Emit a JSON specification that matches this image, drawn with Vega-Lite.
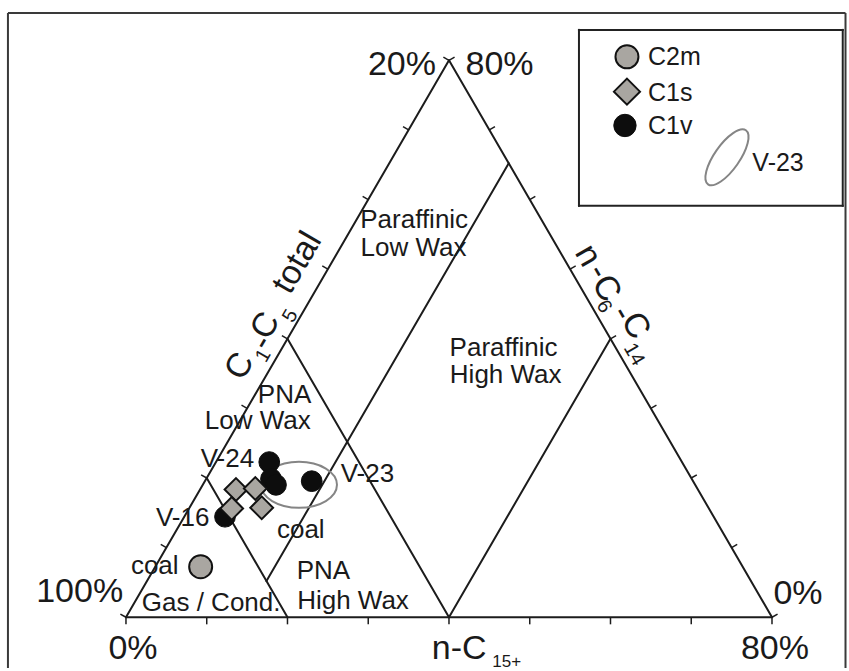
{
  "$schema": "https://vega.github.io/schema/vega-lite/v6.json",
  "width": 849,
  "height": 671,
  "autosize": {"type": "fit", "contains": "padding"},
  "padding": 0,
  "background": "white",
  "config": {"view": {"stroke": null}, "font": "Liberation Sans"},
  "datasets": {
    "segments": [
      {"kind": "frame", "x": -18.27, "y": 93.96, "x2": 111.38, "y2": 93.96},
      {"kind": "frame", "x": -18.27, "y": 93.96, "x2": -18.27, "y2": -7.89},
      {"kind": "frame", "x": 111.38, "y": 93.96, "x2": 111.38, "y2": -7.89},
      {"kind": "box", "x": 70.12, "y": 91.33, "x2": 110.95, "y2": 91.33},
      {"kind": "box", "x": 70.12, "y": 63.98, "x2": 110.95, "y2": 63.98},
      {"kind": "box", "x": 70.12, "y": 91.33, "x2": 70.12, "y2": 63.98},
      {"kind": "box", "x": 110.95, "y": 91.33, "x2": 110.95, "y2": 63.98},
      {"kind": "edge", "x": 0, "y": 0, "x2": 100, "y2": 0},
      {"kind": "edge", "x": 0, "y": 0, "x2": 50, "y2": 86.603},
      {"kind": "edge", "x": 100, "y": 0, "x2": 50, "y2": 86.603},
      {"kind": "edge", "x": 25, "y": 43.301, "x2": 50, "y2": 0},
      {"kind": "edge", "x": 75, "y": 43.301, "x2": 50, "y2": 0},
      {"kind": "edge", "x": 12.5, "y": 21.651, "x2": 25, "y2": 0},
      {"kind": "edge", "x": 21.75, "y": 5.629, "x2": 59.25, "y2": 70.58},
      {"kind": "tick", "x": 0, "y": 0, "x2": 0, "y2": -1.1},
      {"kind": "tick", "x": 12.5, "y": 0, "x2": 12.5, "y2": -1.1},
      {"kind": "tick", "x": 25, "y": 0, "x2": 25, "y2": -1.1},
      {"kind": "tick", "x": 37.5, "y": 0, "x2": 37.5, "y2": -1.1},
      {"kind": "tick", "x": 50, "y": 0, "x2": 50, "y2": -1.1},
      {"kind": "tick", "x": 62.5, "y": 0, "x2": 62.5, "y2": -1.1},
      {"kind": "tick", "x": 75, "y": 0, "x2": 75, "y2": -1.1},
      {"kind": "tick", "x": 87.5, "y": 0, "x2": 87.5, "y2": -1.1},
      {"kind": "tick", "x": 100, "y": 0, "x2": 100, "y2": -1.1},
      {"kind": "tick", "x": 0, "y": 0, "x2": -0.866, "y2": 0.5},
      {"kind": "tick", "x": 6.25, "y": 10.825, "x2": 5.384, "y2": 11.325},
      {"kind": "tick", "x": 12.5, "y": 21.651, "x2": 11.634, "y2": 22.151},
      {"kind": "tick", "x": 18.75, "y": 32.476, "x2": 17.884, "y2": 32.976},
      {"kind": "tick", "x": 25, "y": 43.301, "x2": 24.134, "y2": 43.801},
      {"kind": "tick", "x": 31.25, "y": 54.127, "x2": 30.384, "y2": 54.627},
      {"kind": "tick", "x": 37.5, "y": 64.952, "x2": 36.634, "y2": 65.452},
      {"kind": "tick", "x": 43.75, "y": 75.777, "x2": 42.884, "y2": 76.277},
      {"kind": "tick", "x": 50, "y": 86.603, "x2": 49.134, "y2": 87.103},
      {"kind": "tick", "x": 100, "y": 0, "x2": 100.866, "y2": 0.5},
      {"kind": "tick", "x": 93.75, "y": 10.825, "x2": 94.616, "y2": 11.325},
      {"kind": "tick", "x": 87.5, "y": 21.651, "x2": 88.366, "y2": 22.151},
      {"kind": "tick", "x": 81.25, "y": 32.476, "x2": 82.116, "y2": 32.976},
      {"kind": "tick", "x": 75, "y": 43.301, "x2": 75.866, "y2": 43.801},
      {"kind": "tick", "x": 68.75, "y": 54.127, "x2": 69.616, "y2": 54.627},
      {"kind": "tick", "x": 62.5, "y": 64.952, "x2": 63.366, "y2": 65.452},
      {"kind": "tick", "x": 56.25, "y": 75.777, "x2": 57.116, "y2": 76.277},
      {"kind": "tick", "x": 50, "y": 86.603, "x2": 50.866, "y2": 87.103}
    ],
    "samples": [
      {"series": "C1v", "x": 22.18, "y": 24.13},
      {"series": "C1v", "x": 22.45, "y": 21.52},
      {"series": "C1v", "x": 23.22, "y": 20.59},
      {"series": "C1v", "x": 28.75, "y": 21.16},
      {"series": "C1v", "x": 15.33, "y": 15.63},
      {"series": "C1s", "x": 17.03, "y": 19.86},
      {"series": "C1s", "x": 20.02, "y": 20.02},
      {"series": "C1s", "x": 16.36, "y": 16.92},
      {"series": "C1s", "x": 21.01, "y": 17.03},
      {"series": "C2m", "x": 11.56, "y": 7.85}
    ],
    "legend": [
      {"series": "C2m", "x": 77.55, "y": 87.15},
      {"series": "C1s", "x": 77.55, "y": 81.73},
      {"series": "C1v", "x": 77.24, "y": 76.47}
    ],
    "groups": [
      {"name": "V-23 envelope", "x": 26.78, "y": 20.59},
      {"name": "V-23 legend", "x": 93.03, "y": 71.52}
    ],
    "labels": [
      {"group": "big", "text": "20%", "x": 42.72, "y": 84.37},
      {"group": "big", "text": "80%", "x": 57.82, "y": 84.37},
      {"group": "big", "text": "100%", "x": -7.17, "y": 2.32},
      {"group": "big", "text": "0%", "x": 104.02, "y": 2.06},
      {"group": "big", "text": "0%", "x": 1.08, "y": -6.46},
      {"group": "big", "text": "80%", "x": 100.46, "y": -6.46},
      {"group": "big", "text": "n-C", "x": 51.58, "y": -6.46},
      {"group": "sub", "text": "15+", "x": 58.93, "y": -7.8},
      {"group": "region", "text": "Paraffinic", "x": 44.61, "y": 60.53},
      {"group": "region", "text": "Low Wax", "x": 44.5, "y": 56.24},
      {"group": "region", "text": "Paraffinic", "x": 58.45, "y": 40.67},
      {"group": "region", "text": "High Wax", "x": 58.78, "y": 36.38},
      {"group": "region", "text": "PNA", "x": 24.55, "y": 33.3},
      {"group": "region", "text": "Low Wax", "x": 20.41, "y": 29.35},
      {"group": "region", "text": "PNA", "x": 30.56, "y": 5.88},
      {"group": "region", "text": "High Wax", "x": 35.14, "y": 1.24},
      {"group": "region", "text": "Gas / Cond.", "x": 13.18, "y": 0.93},
      {"group": "region", "text": "coal", "x": 4.45, "y": 6.66},
      {"group": "region", "text": "coal", "x": 27.06, "y": 12.38},
      {"group": "region", "text": "V-24", "x": 15.71, "y": 23.33},
      {"group": "region", "text": "V-16", "x": 8.78, "y": 14.16},
      {"group": "region", "text": "V-23", "x": 37.38, "y": 21.05},
      {"group": "legend", "text": "C2m", "x": 84.89, "y": 85.91},
      {"group": "legend", "text": "C1s", "x": 84.25, "y": 80.34},
      {"group": "legend", "text": "C1v", "x": 84.25, "y": 75.08},
      {"group": "legend", "text": "V-23", "x": 100.94, "y": 69.4},
      {"group": "ltitle", "text": "C", "x": 17.65, "y": 39.01},
      {"group": "ltitlesub", "text": "1", "x": 21.25, "y": 40.67},
      {"group": "ltitle", "text": "-", "x": 21.05, "y": 42.72},
      {"group": "ltitle", "text": "C", "x": 21.63, "y": 45.31},
      {"group": "ltitlesub", "text": "5", "x": 25.45, "y": 46.86},
      {"group": "ltitle", "text": "total", "x": 26.55, "y": 55.11},
      {"group": "rtitle", "text": "n", "x": 71.48, "y": 56.24},
      {"group": "rtitle", "text": "-", "x": 73.09, "y": 53.78},
      {"group": "rtitle", "text": "C", "x": 74.3, "y": 51.1},
      {"group": "rtitlesub", "text": "6", "x": 74.0, "y": 48.3},
      {"group": "rtitle", "text": "-", "x": 76.83, "y": 47.29},
      {"group": "rtitle", "text": "C", "x": 78.85, "y": 45.3},
      {"group": "rtitlesub", "text": "14", "x": 78.64, "y": 40.87}
    ]
  },
  "layer": [
    {
      "data": {"name": "segments"},
      "transform": [{"filter": "datum.kind === 'frame'"}],
      "mark": {"type": "rule", "stroke": "#3a3a3a", "strokeWidth": 2},
      "encoding": {
        "x": {"field": "x", "type": "quantitative", "scale": {"domain": [-19.5, 111.92], "nice": false, "zero": false}, "axis": null},
        "y": {"field": "y", "type": "quantitative", "scale": {"domain": [-7.89, 95.98], "nice": false, "zero": false}, "axis": null},
        "x2": {"field": "x2"},
        "y2": {"field": "y2"}
      }
    },
    {
      "data": {"name": "segments"},
      "transform": [{"filter": "datum.kind === 'box'"}],
      "mark": {"type": "rule", "stroke": "#222222", "strokeWidth": 2, "strokeCap": "square"},
      "encoding": {
        "x": {"field": "x", "type": "quantitative", "scale": {"domain": [-19.5, 111.92], "nice": false, "zero": false}, "axis": null},
        "y": {"field": "y", "type": "quantitative", "scale": {"domain": [-7.89, 95.98], "nice": false, "zero": false}, "axis": null},
        "x2": {"field": "x2"},
        "y2": {"field": "y2"}
      }
    },
    {
      "data": {"name": "segments"},
      "transform": [{"filter": "datum.kind === 'edge'"}],
      "mark": {"type": "rule", "stroke": "#1c1c1c", "strokeWidth": 2, "strokeCap": "round"},
      "encoding": {
        "x": {"field": "x", "type": "quantitative", "scale": {"domain": [-19.5, 111.92], "nice": false, "zero": false}, "axis": null},
        "y": {"field": "y", "type": "quantitative", "scale": {"domain": [-7.89, 95.98], "nice": false, "zero": false}, "axis": null},
        "x2": {"field": "x2"},
        "y2": {"field": "y2"}
      }
    },
    {
      "data": {"name": "segments"},
      "transform": [{"filter": "datum.kind === 'tick'"}],
      "mark": {"type": "rule", "stroke": "#1c1c1c", "strokeWidth": 1.5},
      "encoding": {
        "x": {"field": "x", "type": "quantitative", "scale": {"domain": [-19.5, 111.92], "nice": false, "zero": false}, "axis": null},
        "y": {"field": "y", "type": "quantitative", "scale": {"domain": [-7.89, 95.98], "nice": false, "zero": false}, "axis": null},
        "x2": {"field": "x2"},
        "y2": {"field": "y2"}
      }
    },
    {
      "data": {"name": "groups"},
      "transform": [{"filter": "datum.name === 'V-23 envelope'"}],
      "mark": {"type": "point", "shape": "M -1 0 A 1 0.605 0 1 0 1 0 A 1 0.605 0 1 0 -1 0 Z", "filled": false, "stroke": "#858585", "color": "#858585", "strokeWidth": 2, "size": 5776, "opacity": 1},
      "encoding": {
        "x": {"field": "x", "type": "quantitative", "scale": {"domain": [-19.5, 111.92], "nice": false, "zero": false}, "axis": null},
        "y": {"field": "y", "type": "quantitative", "scale": {"domain": [-7.89, 95.98], "nice": false, "zero": false}, "axis": null}
      }
    },
    {
      "data": {"name": "groups"},
      "transform": [{"filter": "datum.name === 'V-23 legend'"}],
      "mark": {"type": "point", "shape": "M -1 0 A 1 0.38 0 1 0 1 0 A 1 0.38 0 1 0 -1 0 Z", "filled": false, "stroke": "#858585", "color": "#858585", "strokeWidth": 2, "size": 4356, "angle": 305, "opacity": 1},
      "encoding": {
        "x": {"field": "x", "type": "quantitative", "scale": {"domain": [-19.5, 111.92], "nice": false, "zero": false}, "axis": null},
        "y": {"field": "y", "type": "quantitative", "scale": {"domain": [-7.89, 95.98], "nice": false, "zero": false}, "axis": null}
      }
    },
    {
      "data": {"name": "samples"},
      "transform": [{"filter": "datum.series === 'C1v'"}],
      "mark": {"type": "point", "shape": "circle", "filled": true, "fill": "#0d0d0d", "stroke": "#0d0d0d", "strokeWidth": 1, "size": 430, "opacity": 1},
      "encoding": {
        "x": {"field": "x", "type": "quantitative", "scale": {"domain": [-19.5, 111.92], "nice": false, "zero": false}, "axis": null},
        "y": {"field": "y", "type": "quantitative", "scale": {"domain": [-7.89, 95.98], "nice": false, "zero": false}, "axis": null}
      }
    },
    {
      "data": {"name": "samples"},
      "transform": [{"filter": "datum.series === 'C1s'"}],
      "mark": {"type": "point", "shape": "M 0 -1 L 1 0 L 0 1 L -1 0 Z", "filled": true, "fill": "#a9a6a1", "stroke": "#111111", "strokeWidth": 2, "strokeJoin": "miter", "size": 520, "opacity": 1},
      "encoding": {
        "x": {"field": "x", "type": "quantitative", "scale": {"domain": [-19.5, 111.92], "nice": false, "zero": false}, "axis": null},
        "y": {"field": "y", "type": "quantitative", "scale": {"domain": [-7.89, 95.98], "nice": false, "zero": false}, "axis": null}
      }
    },
    {
      "data": {"name": "samples"},
      "transform": [{"filter": "datum.series === 'C2m'"}],
      "mark": {"type": "point", "shape": "circle", "filled": true, "fill": "#a9a6a1", "stroke": "#111111", "strokeWidth": 2, "size": 529, "opacity": 1},
      "encoding": {
        "x": {"field": "x", "type": "quantitative", "scale": {"domain": [-19.5, 111.92], "nice": false, "zero": false}, "axis": null},
        "y": {"field": "y", "type": "quantitative", "scale": {"domain": [-7.89, 95.98], "nice": false, "zero": false}, "axis": null}
      }
    },
    {
      "data": {"name": "legend"},
      "transform": [{"filter": "datum.series === 'C2m'"}],
      "mark": {"type": "point", "shape": "circle", "filled": true, "fill": "#a9a6a1", "stroke": "#111111", "strokeWidth": 2, "size": 529, "opacity": 1},
      "encoding": {
        "x": {"field": "x", "type": "quantitative", "scale": {"domain": [-19.5, 111.92], "nice": false, "zero": false}, "axis": null},
        "y": {"field": "y", "type": "quantitative", "scale": {"domain": [-7.89, 95.98], "nice": false, "zero": false}, "axis": null}
      }
    },
    {
      "data": {"name": "legend"},
      "transform": [{"filter": "datum.series === 'C1s'"}],
      "mark": {"type": "point", "shape": "M 0 -1 L 1 0 L 0 1 L -1 0 Z", "filled": true, "fill": "#a9a6a1", "stroke": "#111111", "strokeWidth": 2, "strokeJoin": "miter", "size": 680, "opacity": 1},
      "encoding": {
        "x": {"field": "x", "type": "quantitative", "scale": {"domain": [-19.5, 111.92], "nice": false, "zero": false}, "axis": null},
        "y": {"field": "y", "type": "quantitative", "scale": {"domain": [-7.89, 95.98], "nice": false, "zero": false}, "axis": null}
      }
    },
    {
      "data": {"name": "legend"},
      "transform": [{"filter": "datum.series === 'C1v'"}],
      "mark": {"type": "point", "shape": "circle", "filled": true, "fill": "#0d0d0d", "stroke": "#0d0d0d", "strokeWidth": 1, "size": 500, "opacity": 1},
      "encoding": {
        "x": {"field": "x", "type": "quantitative", "scale": {"domain": [-19.5, 111.92], "nice": false, "zero": false}, "axis": null},
        "y": {"field": "y", "type": "quantitative", "scale": {"domain": [-7.89, 95.98], "nice": false, "zero": false}, "axis": null}
      }
    },
    {
      "data": {"name": "labels"},
      "transform": [{"filter": "datum.group === 'big'"}],
      "mark": {"type": "text", "fontSize": 34, "align": "center", "baseline": "alphabetic", "color": "#1a1a1a"},
      "encoding": {
        "x": {"field": "x", "type": "quantitative", "scale": {"domain": [-19.5, 111.92], "nice": false, "zero": false}, "axis": null},
        "y": {"field": "y", "type": "quantitative", "scale": {"domain": [-7.89, 95.98], "nice": false, "zero": false}, "axis": null},
        "text": {"field": "text"}
      }
    },
    {
      "data": {"name": "labels"},
      "transform": [{"filter": "datum.group === 'sub'"}],
      "mark": {"type": "text", "fontSize": 17, "align": "center", "baseline": "alphabetic", "color": "#1a1a1a"},
      "encoding": {
        "x": {"field": "x", "type": "quantitative", "scale": {"domain": [-19.5, 111.92], "nice": false, "zero": false}, "axis": null},
        "y": {"field": "y", "type": "quantitative", "scale": {"domain": [-7.89, 95.98], "nice": false, "zero": false}, "axis": null},
        "text": {"field": "text"}
      }
    },
    {
      "data": {"name": "labels"},
      "transform": [{"filter": "datum.group === 'region'"}],
      "mark": {"type": "text", "fontSize": 26, "align": "center", "baseline": "alphabetic", "color": "#1a1a1a"},
      "encoding": {
        "x": {"field": "x", "type": "quantitative", "scale": {"domain": [-19.5, 111.92], "nice": false, "zero": false}, "axis": null},
        "y": {"field": "y", "type": "quantitative", "scale": {"domain": [-7.89, 95.98], "nice": false, "zero": false}, "axis": null},
        "text": {"field": "text"}
      }
    },
    {
      "data": {"name": "labels"},
      "transform": [{"filter": "datum.group === 'legend'"}],
      "mark": {"type": "text", "fontSize": 25, "align": "center", "baseline": "alphabetic", "color": "#1a1a1a"},
      "encoding": {
        "x": {"field": "x", "type": "quantitative", "scale": {"domain": [-19.5, 111.92], "nice": false, "zero": false}, "axis": null},
        "y": {"field": "y", "type": "quantitative", "scale": {"domain": [-7.89, 95.98], "nice": false, "zero": false}, "axis": null},
        "text": {"field": "text"}
      }
    },
    {
      "data": {"name": "labels"},
      "transform": [{"filter": "datum.group === 'ltitle'"}],
      "mark": {"type": "text", "fontSize": 34, "align": "center", "baseline": "middle", "angle": 300, "color": "#1a1a1a"},
      "encoding": {
        "x": {"field": "x", "type": "quantitative", "scale": {"domain": [-19.5, 111.92], "nice": false, "zero": false}, "axis": null},
        "y": {"field": "y", "type": "quantitative", "scale": {"domain": [-7.89, 95.98], "nice": false, "zero": false}, "axis": null},
        "text": {"field": "text"}
      }
    },
    {
      "data": {"name": "labels"},
      "transform": [{"filter": "datum.group === 'ltitlesub'"}],
      "mark": {"type": "text", "fontSize": 20, "align": "center", "baseline": "middle", "angle": 300, "color": "#1a1a1a"},
      "encoding": {
        "x": {"field": "x", "type": "quantitative", "scale": {"domain": [-19.5, 111.92], "nice": false, "zero": false}, "axis": null},
        "y": {"field": "y", "type": "quantitative", "scale": {"domain": [-7.89, 95.98], "nice": false, "zero": false}, "axis": null},
        "text": {"field": "text"}
      }
    },
    {
      "data": {"name": "labels"},
      "transform": [{"filter": "datum.group === 'rtitle'"}],
      "mark": {"type": "text", "fontSize": 34, "align": "center", "baseline": "middle", "angle": 60, "color": "#1a1a1a"},
      "encoding": {
        "x": {"field": "x", "type": "quantitative", "scale": {"domain": [-19.5, 111.92], "nice": false, "zero": false}, "axis": null},
        "y": {"field": "y", "type": "quantitative", "scale": {"domain": [-7.89, 95.98], "nice": false, "zero": false}, "axis": null},
        "text": {"field": "text"}
      }
    },
    {
      "data": {"name": "labels"},
      "transform": [{"filter": "datum.group === 'rtitlesub'"}],
      "mark": {"type": "text", "fontSize": 20, "align": "center", "baseline": "middle", "angle": 60, "color": "#1a1a1a"},
      "encoding": {
        "x": {"field": "x", "type": "quantitative", "scale": {"domain": [-19.5, 111.92], "nice": false, "zero": false}, "axis": null},
        "y": {"field": "y", "type": "quantitative", "scale": {"domain": [-7.89, 95.98], "nice": false, "zero": false}, "axis": null},
        "text": {"field": "text"}
      }
    }
  ]
}
